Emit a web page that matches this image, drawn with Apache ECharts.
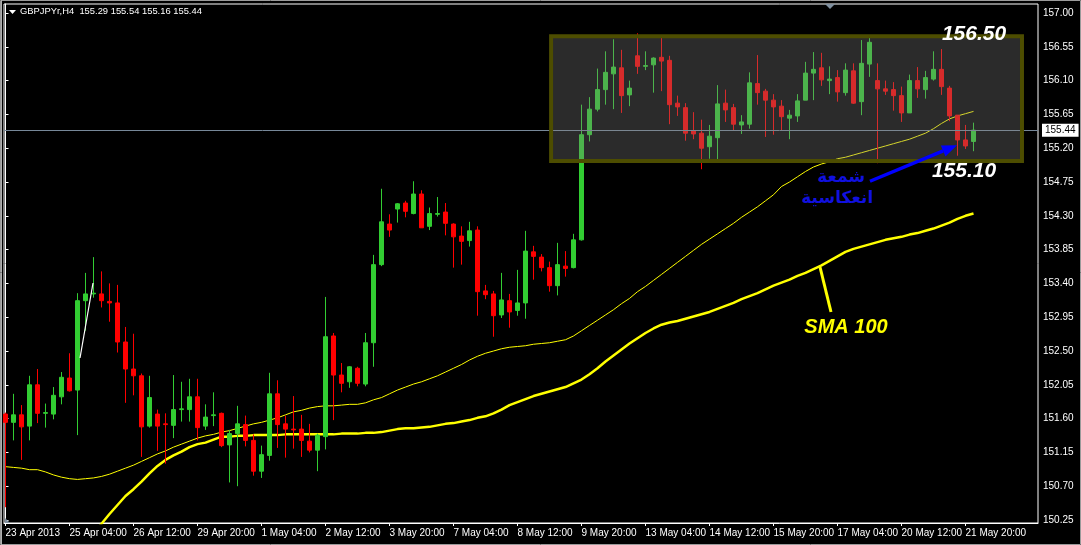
<!DOCTYPE html>
<html><head><meta charset="utf-8">
<script src="https://cdn.jsdelivr.net/npm/echarts@6/dist/echarts.min.js"></script>
<style>html,body{margin:0;padding:0;background:#000;}#c{width:1081px;height:545px;}</style>
</head><body><div id="c"></div>
<script>
// ---- DATA (GBPJPYr H4) ----
const tickBars = [0,8,16,24,32,40,48,56,64,72,80,88,96,104,112,120];
const tickLabels = ["23 Apr 2013","25 Apr 04:00","26 Apr 12:00","29 Apr 20:00","1 May 04:00","2 May 12:00","3 May 20:00","7 May 04:00","8 May 12:00","9 May 20:00","13 May 04:00","14 May 12:00","15 May 20:00","17 May 04:00","20 May 12:00","21 May 20:00"];
const priceTicks = [150.25,150.70,151.15,151.60,152.05,152.50,152.95,153.40,153.85,154.30,154.75,155.20,155.65,156.10,156.55,157.00];

const opens = [151.66,151.55,151.65,151.50,152.05,151.67,151.66,151.89,152.14,151.98,153.17,153.26,153.26,153.16,153.14,152.62,152.26,152.17,151.50,151.66,151.53,151.51,151.72,151.72,151.89,151.50,151.64,151.67,151.25,151.40,151.52,151.31,150.90,151.11,151.93,151.53,151.46,151.46,151.30,151.18,151.36,152.70,152.18,152.09,152.27,152.06,152.61,153.65,154.19,154.39,154.47,154.33,154.59,154.16,154.32,154.35,154.19,154.03,153.97,154.11,153.30,153.26,152.98,153.17,153.04,153.14,153.82,153.75,153.61,153.37,153.63,153.61,153.98,155.38,155.72,155.98,156.19,156.27,155.91,156.43,156.29,156.31,156.41,156.37,155.80,155.74,155.43,155.40,155.22,155.34,155.80,155.74,155.51,155.52,156.06,155.96,155.84,155.76,155.60,155.63,155.84,156.20,156.27,156.10,156.14,155.94,156.23,155.82,156.32,156.10,155.99,155.98,155.90,155.67,156.10,155.98,156.12,156.25,156.00,155.64,155.31,155.29];
const closes = [151.55,151.65,151.49,152.05,151.67,151.68,151.91,152.15,151.97,153.17,153.26,153.27,153.17,153.14,152.62,152.26,152.17,151.49,151.88,151.50,151.52,151.72,151.73,151.89,151.48,151.62,151.65,151.24,151.40,151.53,151.31,150.90,151.12,151.93,151.52,151.46,151.45,151.31,151.18,151.38,152.69,152.18,152.07,152.29,152.07,152.61,153.65,154.22,154.11,154.46,154.36,154.59,154.14,154.33,154.33,154.20,154.02,153.96,154.10,153.29,153.25,152.97,153.18,153.02,153.14,153.83,153.76,153.61,153.37,153.65,153.60,153.98,155.38,155.72,155.98,156.21,156.28,155.90,156.00,156.29,156.30,156.40,156.36,155.78,155.75,155.40,155.39,155.20,155.36,155.79,155.71,155.52,155.55,156.07,155.94,155.84,155.75,155.62,155.64,155.83,156.20,156.25,156.11,156.12,155.95,156.24,155.80,156.33,156.61,155.99,155.96,155.90,155.67,156.10,155.99,156.14,156.25,156.02,155.63,155.31,155.23,155.44];
const lows = [150.42,151.31,151.05,151.31,151.54,151.48,151.59,151.79,151.96,151.38,152.77,153.21,153.08,152.89,152.48,151.81,151.91,151.09,151.48,151.17,151.00,151.34,151.56,151.56,151.31,151.45,151.50,151.22,150.75,150.70,151.23,150.84,150.81,151.04,151.21,151.08,151.20,151.09,151.15,150.90,151.19,151.58,151.95,152.01,152.03,152.03,152.29,153.63,154.02,154.21,154.28,154.32,154.14,154.11,154.29,154.04,153.61,153.65,153.89,152.97,153.19,152.69,152.94,152.81,152.97,152.93,153.45,153.56,153.29,153.24,153.49,153.60,153.97,155.29,155.69,155.78,155.72,155.67,155.76,156.19,156.24,155.94,155.96,155.52,155.63,155.30,155.32,154.92,155.06,155.03,155.55,155.43,155.39,155.46,155.78,155.35,155.38,155.43,155.32,155.55,155.84,155.84,156.03,155.92,155.82,155.90,155.79,155.64,156.15,155.00,155.91,155.70,155.55,155.67,155.87,155.86,156.10,155.91,155.56,155.10,155.19,155.16];
const highs = [151.68,151.93,151.78,152.17,152.26,151.80,152.02,152.22,152.47,153.27,153.54,153.75,153.56,153.40,153.38,152.82,152.73,152.20,152.17,151.72,151.67,152.18,152.09,152.13,152.13,151.79,151.95,151.68,151.45,151.77,151.64,151.39,151.24,152.21,152.11,151.64,151.90,151.65,151.53,151.40,153.22,152.74,152.34,152.30,152.29,152.74,153.78,154.66,154.32,154.47,154.50,154.76,154.64,154.41,154.55,154.47,154.20,154.16,154.22,154.16,153.38,153.30,153.54,153.26,153.58,154.10,153.90,153.79,153.69,153.94,153.83,154.06,155.78,155.88,156.26,156.49,156.65,156.51,156.10,156.73,156.49,156.41,156.67,156.43,155.90,155.80,155.68,155.58,155.51,156.04,155.98,155.79,155.64,156.21,156.44,155.99,155.92,155.84,155.71,155.92,156.35,156.48,156.47,156.29,156.24,156.33,156.33,156.64,156.67,156.33,156.10,156.08,156.02,156.18,156.28,156.23,156.49,156.52,156.03,155.64,155.51,155.54];
// thin moving average
const maFast = [150.96,150.95,150.94,150.92,150.92,150.89,150.85,150.82,150.80,150.79,150.80,150.81,150.83,150.86,150.90,150.94,150.98,151.03,151.08,151.13,151.17,151.22,151.26,151.30,151.34,151.37,151.39,151.42,151.44,151.47,151.50,151.53,151.55,151.58,151.61,151.65,151.69,151.71,151.74,151.76,151.77,151.77,151.78,151.79,151.79,151.81,151.85,151.88,151.93,151.98,152.02,152.06,152.09,152.13,152.17,152.22,152.27,152.32,152.38,152.43,152.47,152.50,152.53,152.55,152.56,152.57,152.59,152.60,152.61,152.63,152.65,152.70,152.77,152.84,152.91,152.98,153.05,153.13,153.20,153.29,153.36,153.44,153.52,153.60,153.68,153.76,153.84,153.92,153.99,154.06,154.13,154.20,154.28,154.35,154.42,154.50,154.58,154.69,154.75,154.82,154.89,154.95,154.99,155.02,155.06,155.08,155.11,155.14,155.17,155.20,155.23,155.26,155.29,155.32,155.36,155.40,155.46,155.53,155.59,155.63,155.66,155.69];
// SMA 100 (thick)
const sma100 = [148.96,149.04,149.12,149.21,149.30,149.40,149.50,149.61,149.72,149.84,149.96,150.08,150.20,150.33,150.45,150.57,150.66,150.76,150.87,150.97,151.05,151.11,151.16,151.22,151.26,151.28,151.32,151.36,151.36,151.37,151.37,151.38,151.38,151.38,151.38,151.39,151.39,151.39,151.39,151.39,151.39,151.39,151.40,151.40,151.40,151.41,151.41,151.42,151.44,151.46,151.47,151.47,151.48,151.49,151.51,151.53,151.54,151.56,151.58,151.61,151.63,151.67,151.72,151.78,151.82,151.86,151.90,151.93,151.96,151.99,152.02,152.07,152.12,152.19,152.27,152.36,152.44,152.52,152.60,152.67,152.74,152.80,152.85,152.88,152.90,152.93,152.96,152.99,153.02,153.06,153.10,153.14,153.19,153.23,153.27,153.32,153.37,153.41,153.45,153.50,153.54,153.59,153.64,153.70,153.76,153.82,153.86,153.89,153.92,153.95,153.98,154.00,154.02,154.05,154.07,154.10,154.13,154.17,154.21,154.26,154.30,154.33];
const header = "GBPJPYr,H4  155.29 155.54 155.16 155.44";
const bidPrice = 155.44;
// annotation anchors (bar index, price)
const boxArea = {x0: 68.2, x1: 127.06, top: 156.69, bottom: 155.03};
const arrowFrom = [108.06, 154.76], arrowTo = [118.94, 155.24];

const candles = opens.map((o, i) => [i, o, closes[i], lows[i], highs[i]]);
const fastLine = maFast.map((v, i) => [i, v]);
const slowLine = sma100.map((v, i) => [i, v]);

const FONT = 'Liberation Sans';
const chart = echarts.init(document.getElementById('c'), null, {renderer: 'canvas'});
const option = {
  animation: false,
  backgroundColor: '#000',
  grid: {left: 4, right: 43, top: 4, bottom: 22, show: true, borderColor: '#ffffff', borderWidth: 1, backgroundColor: '#000'},
  xAxis: {
    type: 'value', min: -0.1875, max: 129.0625,
    splitLine: {show: false},
    axisLine: {show: true, lineStyle: {color: '#fff'}},
    axisTick: {show: true, inside: false, length: 3, lineStyle: {color: '#fff'}, customValues: tickBars},
    axisLabel: {color: '#fff', fontFamily: FONT, fontSize: 10, margin: 5, align: 'left',
      customValues: tickBars,
      formatter: v => { const k = tickBars.indexOf(Math.round(v)); return k >= 0 ? tickLabels[k] : ''; }}
  },
  yAxis: {
    type: 'value', position: 'right', min: 150.21, max: 157.12, scale: true,
    splitLine: {show: false},
    axisLine: {show: true, lineStyle: {color: '#fff'}},
    axisTick: {show: true, inside: false, length: 3, lineStyle: {color: '#fff'}, customValues: priceTicks},
    axisLabel: {color: '#fff', fontFamily: FONT, fontSize: 10, margin: 5, customValues: priceTicks,
      formatter: v => v.toFixed(2)}
  },
  series: [
    {type: 'line', data: fastLine, showSymbol: false, symbol: 'none', z: 1,
     lineStyle: {color: '#ffff00', width: 1}, clip: true},
    {type: 'line', data: slowLine, showSymbol: false, symbol: 'none', z: 1,
     lineStyle: {color: '#ffff00', width: 2.5}, clip: true},
    {type: 'candlestick', data: candles, barWidth: 4, z: 3, clip: true,
     itemStyle: {color: '#32cd32', color0: '#ff0000', borderColor: '#32cd32', borderColor0: '#ff0000', borderWidth: 1},
     markLine: {silent: true, symbol: 'none', animation: false,
       lineStyle: {color: '#778899', width: 1, type: 'solid'},
       label: {show: true, position: 'end', distance: 4, formatter: bidPrice.toFixed(2), color: '#000', backgroundColor: '#fff',
         fontFamily: FONT, fontSize: 10, padding: [2, 3, 1, 3]},
       data: [{yAxis: bidPrice}]}}
  ]
};
chart.setOption(option);

const px = (x, y) => chart.convertToPixel({gridIndex: 0}, [x, y]);
const b0 = px(boxArea.x0, boxArea.top), b1 = px(boxArea.x1, boxArea.bottom);
const a0 = px(arrowFrom[0], arrowFrom[1]), a1 = px(arrowTo[0], arrowTo[1]);
const ang = Math.atan2(a1[1] - a0[1], a1[0] - a0[0]);
const hl = 15, hw = 6;
const baseX = a1[0] - hl * Math.cos(ang), baseY = a1[1] - hl * Math.sin(ang);
const head = [[a1[0], a1[1]], [baseX + hw * Math.sin(ang), baseY - hw * Math.cos(ang)], [baseX - hw * Math.sin(ang), baseY + hw * Math.cos(ang)]];
const BIG = 'italic bold 21px "Liberation Sans"';

chart.setOption({graphic: [
  // window frame
  {type: 'rect', shape: {x: 0.5, y: 0.5, width: 1080, height: 544}, style: {fill: 'none', stroke: '#9a9a9a', lineWidth: 1}, z: 50, silent: true},
  {type: 'line', shape: {x1: 1.5, y1: 0, x2: 1.5, y2: 545}, style: {stroke: '#b0b0b0', lineWidth: 1}, z: 50},
  // header
  {type: 'polygon', shape: {points: [[9, 10], [16, 10], [12.5, 14]]}, style: {fill: '#fff'}, z: 60},
  {type: 'text', x: 20, y: 7, style: {text: header, fill: '#fff', font: '9.4px ' + FONT}, z: 60},
  // shift marker
  {type: 'polygon', shape: {points: [[825, 4], [835, 4], [830, 9]]}, style: {fill: '#8090a0'}, z: 60},
  // scroll marker bottom-left
  {type: 'polygon', shape: {points: [[5, 518], [5, 523], [10, 523]]}, style: {fill: '#8090a0'}, z: 60},
  // white trendline
  {type: 'line', shape: {x1: 80, y1: 358, x2: 93, y2: 283}, style: {stroke: '#fff', lineWidth: 1.2}, z: 40},
  // range box overlay
  {type: 'rect', shape: {x: b0[0], y: b0[1], width: b1[0] - b0[0], height: b1[1] - b0[1]},
   style: {fill: 'rgba(130,130,130,0.33)', stroke: '#4d4d00', lineWidth: 4}, z: 40, silent: true},
  {type: 'text', x: 974, y: 34, style: {text: '156.50', fill: '#fff', font: BIG, align: 'center', verticalAlign: 'middle'}, z: 60},
  {type: 'text', x: 964, y: 171, style: {text: '155.10', fill: '#fff', font: BIG, align: 'center', verticalAlign: 'middle'}, z: 60},
  // arrow
  {type: 'line', shape: {x1: a0[0], y1: a0[1], x2: baseX, y2: baseY}, style: {stroke: '#0000ff', lineWidth: 3.5}, z: 60},
  {type: 'polygon', shape: {points: head}, style: {fill: '#0000ff'}, z: 60},
  {type: 'text', x: 841, y: 178, style: {text: 'شمعة', fill: '#1010e0', font: 'bold 17px "DejaVu Sans"', align: 'center', verticalAlign: 'middle'}, z: 60},
  {type: 'text', x: 837, y: 199, style: {text: 'انعكاسية', fill: '#1010e0', font: 'bold 17px "DejaVu Sans"', align: 'center', verticalAlign: 'middle'}, z: 60},
  // SMA 100 label
  {type: 'line', shape: {x1: 820, y1: 267, x2: 831, y2: 312}, style: {stroke: '#ffff00', lineWidth: 3}, z: 60},
  {type: 'text', x: 846, y: 327, style: {text: 'SMA 100', fill: '#ffff00', font: 'italic bold 20px "Liberation Sans"', align: 'center', verticalAlign: 'middle'}, z: 60}
]});
</script></body></html>
